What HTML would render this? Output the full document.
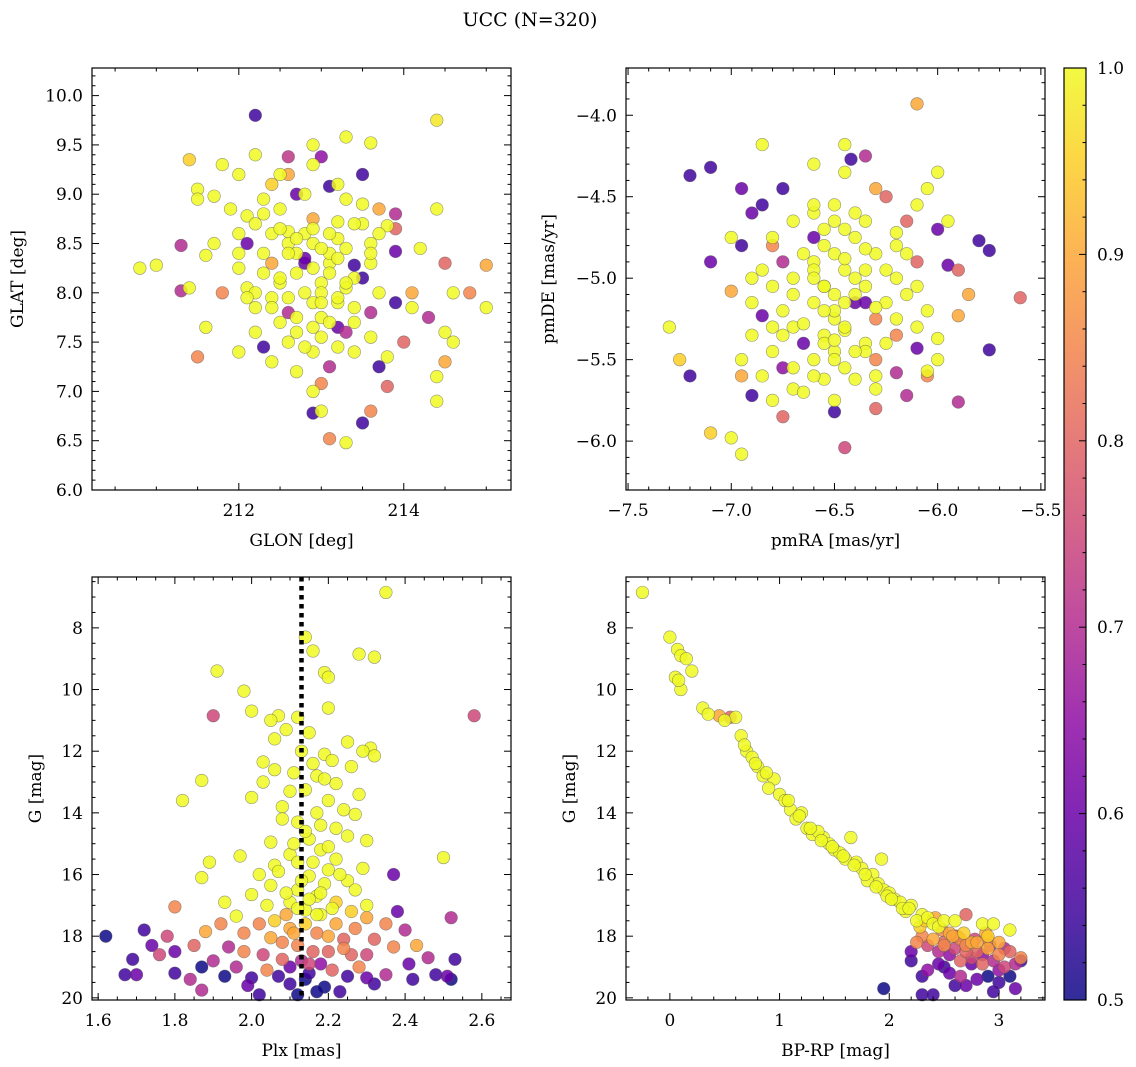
<!DOCTYPE html>
<html><head><meta charset="utf-8"><style>
html,body{margin:0;padding:0;background:#fff;}
svg{display:block;font-family:"DejaVu Serif","Liberation Serif",serif;}
</style></head><body>
<svg id="fig" width="1136" height="1067" viewBox="0 0 1136 1067" xmlns="http://www.w3.org/2000/svg">
<rect width="1136" height="1067" fill="#fff"/>
<text x="530" y="26" font-size="19" text-anchor="middle">UCC (N=320)</text>
<defs><linearGradient id="plasma" x1="0" y1="1" x2="0" y2="0">
<stop offset="0" stop-color="#0d0887"/><stop offset="0.1" stop-color="#41049d"/><stop offset="0.2" stop-color="#6a00a8"/><stop offset="0.3" stop-color="#8f0da4"/><stop offset="0.4" stop-color="#b12a90"/><stop offset="0.5" stop-color="#cc4778"/><stop offset="0.6" stop-color="#e16462"/><stop offset="0.7" stop-color="#f2844b"/><stop offset="0.8" stop-color="#fca636"/><stop offset="0.9" stop-color="#fcce25"/><stop offset="1" stop-color="#f0f921"/>
</linearGradient></defs>
</svg>
<script>
// ---- Panel 1: GLON / GLAT / membership probability ----
const p1Glon = [212.2,214.4,213.3,213.6,212.9,213.0,211.4,212.6,212.2,213.5,212.9,212.5,211.8,211.5,212.4,213.1,212.7,212.0,211.7,211.5,212.3,213.3,213.7,214.4,212.5,211.9,213.9,212.1,212.9,213.2,213.5,213.8,212.6,212.0,211.3,211.7,212.1,212.3,212.6,212.9,213.2,213.6,214.2,213.9,211.6,212.0,212.4,212.8,213.1,213.4,213.6,214.5,210.8,211.0,211.4,211.3,211.8,212.1,212.5,213.0,213.3,213.7,214.1,214.6,215.0,214.8,215.0,213.9,212.2,212.6,213.0,213.6,214.1,214.3,211.6,212.2,212.7,213.2,213.6,214.0,214.5,214.6,212.3,212.9,213.4,213.8,211.5,212.0,212.4,212.7,213.1,213.7,214.5,214.4,213.8,213.0,212.9,213.6,214.4,212.9,213.0,213.5,213.1,213.3,212.7,212.8,213.0,212.9,213.2,213.4,212.4,213.1,
 212.5,212.7,212.9,213.1,213.3,212.6,212.8,213.0,213.2,213.4,212.3,212.5,212.7,212.9,213.1,213.3,213.5,212.2,212.4,212.6,212.8,213.0,213.2,213.4,212.5,212.7,212.9,213.1,213.3,212.6,212.8,213.0,213.2,212.4,213.6,212.1,213.7,212.3,213.9,212.0,213.5,212.8,213.2,212.6,212.2,213.4];
const p1Glat = [9.8,9.75,9.58,9.52,9.5,9.38,9.35,9.38,9.4,9.2,9.3,9.2,9.3,9.05,9.1,9.08,9.0,9.2,8.98,8.95,8.95,8.95,8.85,8.85,8.85,8.85,8.8,8.78,8.75,8.72,8.7,8.68,8.62,8.6,8.48,8.5,8.5,8.4,8.5,8.5,8.55,8.5,8.45,8.42,8.38,8.25,8.3,8.3,8.3,8.28,8.3,8.3,8.25,8.28,8.05,8.02,8.0,8.05,8.1,8.1,8.05,8.0,8.0,8.0,8.28,8.0,7.85,7.9,7.85,7.8,7.75,7.8,7.85,7.75,7.65,7.6,7.6,7.65,7.55,7.5,7.6,7.5,7.45,7.4,7.4,7.35,7.35,7.4,7.3,7.2,7.25,7.25,7.3,7.15,7.05,7.08,7.0,6.8,6.9,6.78,6.8,6.68,6.52,6.48,8.4,8.6,8.0,7.9,7.9,8.7,8.6,8.4,
 8.65,8.55,8.65,8.6,8.45,8.4,8.35,8.45,8.35,8.15,8.2,8.15,8.2,8.25,8.2,8.1,8.15,8.0,7.95,7.95,8.0,7.9,7.95,7.85,7.7,7.75,7.65,7.7,7.6,7.5,7.45,7.55,7.45,7.85,8.4,7.95,8.6,8.8,8.65,8.4,8.9,9.0,9.1,9.2,8.7,7.7];
const p1Prob = [0.55,0.98,1,1,1,0.65,0.95,0.72,1,0.55,1,1,1,1,0.95,0.55,0.6,1,1,1,1,1,0.9,1,1,1,0.7,1,0.9,1,1,1,1,1,0.7,1,0.6,1,1,1,1,1,1,0.6,1,1,0.9,0.6,1,0.55,1,0.8,1,1,1,0.7,0.85,1,1,1,1,1,0.9,1,0.9,0.85,1,0.55,1,0.7,1,0.7,1,0.7,1,1,1,0.6,1,0.8,1,1,0.55,1,1,1,0.85,1,1,1,0.7,0.55,0.9,1,0.8,0.85,1,0.85,1,0.55,1,0.55,0.85,1,1,1,1,1,1,1,1,1,
 1,1,1,1,1,1,0.6,1,1,1,1,1,1,1,1,1,0.55,1,1,1,1,1,1,1,1,1,1,1,0.7,1,1,1,1,1,1,1,1,1,0.8,1,1,1,1,0.9,1,1];
// ---- Panel 2: pmRA / pmDE ----
const p2PmRA = [-6.1,-6.85,-6.45,-6.42,-6.35,-6.6,-7.2,-7.1,-6.45,-6.0,-6.95,-6.75,-6.3,-6.05,-6.85,-6.9,-6.5,-6.25,-6.1,-5.95,-6.7,-6.35,-6.55,-6.15,-6.0,-6.8,-7.0,-6.6,-6.4,-6.2,-5.8,-6.95,-6.8,-5.75,-6.5,-6.3,-7.1,-6.75,-6.6,-6.1,-5.95,-6.45,-6.7,-6.9,-6.2,-5.9,-7.0,-6.8,-6.55,-6.35,-6.15,-5.6,-5.85,-6.9,-6.6,-6.4,-6.25,-6.05,-6.75,-6.85,-6.5,-6.3,-5.9,-7.3,-6.7,-6.45,-6.1,-6.9,-6.55,-6.2,-6.0,-6.65,-6.35,-6.8,-6.5,-6.1,-5.75,-7.25,-6.95,-6.6,-6.3,-6.0,-6.75,-6.45,-6.2,-7.2,-6.95,-6.85,-6.55,-6.05,-6.7,-6.3,-6.9,-6.8,-6.5,-6.15,-5.9,-6.75,-6.5,-6.3,-7.1,-7.0,-6.45,-6.95,-6.05,-6.6,-6.4,-6.5,
 -6.65,-6.55,-6.45,-6.35,-6.25,-6.7,-6.6,-6.5,-6.4,-6.3,-6.2,-6.75,-6.65,-6.55,-6.45,-6.35,-6.25,-6.7,-6.6,-6.5,-6.4,-6.3,-6.65,-6.55,-6.45,-6.35,-6.6,-6.5,-6.4,-6.55,-6.85,-6.15,-6.8,-6.1,-6.4,-6.2,-6.6,-6.5,-6.35,-6.45];
const p2PmDE = [-3.93,-4.18,-4.18,-4.27,-4.25,-4.3,-4.37,-4.32,-4.35,-4.35,-4.45,-4.45,-4.45,-4.45,-4.55,-4.6,-4.55,-4.5,-4.55,-4.65,-4.65,-4.65,-4.7,-4.65,-4.7,-4.75,-4.75,-4.75,-4.75,-4.8,-4.77,-4.8,-4.8,-4.83,-4.85,-4.85,-4.9,-4.9,-4.9,-4.9,-4.92,-4.95,-5.0,-5.0,-5.0,-4.95,-5.08,-5.05,-5.05,-5.05,-5.1,-5.12,-5.1,-5.15,-5.15,-5.15,-5.15,-5.2,-5.2,-5.23,-5.25,-5.25,-5.23,-5.3,-5.3,-5.32,-5.3,-5.35,-5.35,-5.35,-5.37,-5.4,-5.4,-5.45,-5.45,-5.43,-5.44,-5.5,-5.5,-5.5,-5.5,-5.5,-5.55,-5.55,-5.58,-5.6,-5.6,-5.6,-5.62,-5.6,-5.68,-5.68,-5.72,-5.75,-5.75,-5.72,-5.76,-5.85,-5.82,-5.8,-5.95,-5.98,-6.04,-6.08,-5.57,-4.95,-5.0,-5.1,
 -4.85,-4.8,-4.88,-4.82,-4.95,-5.1,-5.0,-5.2,-5.1,-5.18,-5.25,-5.35,-5.28,-5.4,-5.3,-5.45,-5.4,-5.55,-5.6,-5.38,-5.62,-5.6,-5.7,-5.05,-4.7,-4.95,-4.6,-4.65,-4.6,-5.2,-4.95,-4.85,-5.3,-5.05,-5.45,-4.72,-4.55,-5.5,-5.15,-5.15];
const p2Prob = [0.9,1,1,0.55,0.7,1,0.55,0.55,1,1,0.6,0.55,0.9,1,0.55,0.6,1,0.8,1,1,1,1,1,0.8,0.6,1,1,0.6,1,1,0.55,0.55,0.85,0.55,1,1,0.6,0.7,1,0.8,0.6,1,1,1,1,0.8,0.9,1,1,1,1,0.8,0.9,1,1,0.6,1,1,1,0.6,1,0.85,0.9,1,1,1,1,1,1,0.85,1,0.6,1,1,1,0.6,0.55,0.95,1,1,0.85,1,0.65,1,0.7,0.55,0.9,1,1,0.85,1,1,0.55,1,1,0.7,0.7,0.8,0.55,0.8,0.95,1,0.75,1,1,1,1,1,
 1,1,1,1,1,1,1,1,1,1,1,1,1,1,1,1,1,1,1,1,1,1,1,1,1,1,1,1,1,1,1,1,1,1,1,1,1,1,0.6,1];
// ---- Panel 3: Plx / G ----
const p3Plx = [2.35,2.14,2.28,2.32,2.16,1.91,2.19,2.2,1.98,2.0,2.07,2.12,2.2,1.9,2.58,2.05,2.09,2.15,2.06,2.25,2.31,2.29,2.19,2.32,2.03,2.21,2.26,2.06,2.11,2.17,1.87,2.03,2.22,2.14,2.28,2.0,2.2,1.82,2.08,2.17,2.27,2.12,2.22,2.05,2.15,2.25,2.3,2.18,2.1,1.97,2.22,2.5,2.12,1.89,2.06,2.2,2.29,2.02,2.15,2.37,1.87,2.25,2.05,2.12,2.27,2.0,2.17,2.1,2.22,1.93,2.3,2.04,2.14,2.26,1.8,2.38,2.09,2.18,1.96,2.3,2.52,1.72,1.92,2.02,2.22,2.35,2.1,2.27,1.88,1.98,2.17,2.4,1.62,1.78,2.05,2.24,2.32,1.74,1.85,1.94,2.12,2.37,2.43,1.69,1.8,1.98,2.2,2.3,2.46,2.53,1.76,1.9,2.08,2.15,2.28,2.41,1.87,1.96,2.04,2.21,2.35,2.48,2.51,1.67,1.7,1.8,1.93,2.0,2.14,2.25,2.3,2.42,2.52,1.84,1.99,2.1,2.19,2.32,1.87,2.02,2.17,2.23,2.12,
 2.13,2.16,2.19,2.1,2.24,2.08,2.14,2.18,2.11,2.2,2.16,2.07,2.13,2.19,2.23,2.09,2.15,2.12,2.18,2.06,2.21,2.14,2.11,2.17,2.2,2.08,2.16,2.24,2.03,2.13,2.1,2.18,2.15,2.26,2.07];
const p3G = [6.85,8.3,8.85,8.95,8.75,9.4,9.45,9.6,10.05,10.7,10.85,10.9,10.6,10.85,10.85,11.0,11.3,11.4,11.6,11.7,11.9,12.0,12.1,12.15,12.35,12.3,12.5,12.6,12.7,12.8,12.95,13.0,13.05,13.25,13.4,13.5,13.6,13.6,13.8,14.0,14.05,14.3,14.5,14.95,14.85,14.75,14.9,15.2,15.35,15.4,15.5,15.45,15.6,15.6,15.7,15.85,15.8,16.0,16.05,16.0,16.1,16.2,16.35,16.5,16.5,16.65,16.7,16.9,16.9,16.9,17.0,17.0,17.15,17.2,17.05,17.2,17.3,17.3,17.35,17.4,17.4,17.8,17.6,17.6,17.6,17.6,17.75,17.75,17.85,17.9,17.9,17.8,18.0,18.0,18.05,18.1,18.1,18.3,18.3,18.35,18.3,18.35,18.3,18.75,18.5,18.5,18.5,18.6,18.7,18.75,18.6,18.8,18.75,18.9,19.0,18.9,19.0,19.0,19.1,19.1,19.25,19.25,19.3,19.25,19.25,19.2,19.3,19.35,19.4,19.3,19.35,19.4,19.4,19.4,19.6,19.55,19.65,19.55,19.75,19.9,19.8,19.8,19.9,
 12.0,12.4,12.9,13.3,13.9,14.2,14.6,14.4,15.0,15.1,15.6,15.9,16.2,16.3,16.0,16.6,16.8,17.1,16.6,17.5,17.1,17.6,17.9,17.3,18.0,18.2,18.5,18.4,18.6,18.8,19.0,18.9,19.2,18.6,19.3];
const p3Prob = [1,1,1,1,1,1,1,1,1,1,1,1,1,0.75,0.75,1,1,1,1,1,1,1,1,1,1,1,1,1,1,1,1,1,1,1,1,1,1,1,1,1,1,1,1,1,1,1,1,1,1,1,1,1,1,1,1,1,1,1,1,0.6,1,1,1,1,1,1,1,1,0.95,1,1,1,1,0.95,0.85,0.6,0.9,1,1,0.9,0.7,0.55,0.85,0.85,0.9,0.85,0.9,0.85,0.9,0.85,0.85,0.7,0.5,0.75,0.9,0.8,0.8,0.6,0.8,0.7,0.85,0.85,0.9,0.55,0.6,0.85,0.8,0.75,0.7,0.55,0.75,0.7,0.8,0.75,0.85,0.6,0.5,0.7,0.85,0.8,0.7,0.55,0.6,0.55,0.6,0.55,0.5,0.55,0.5,0.55,0.6,0.55,0.5,0.7,0.6,0.55,0.5,0.55,0.7,0.55,0.5,0.55,0.5,
 1,1,1,1,1,1,1,1,1,1,1,1,1,1,1,1,1,1,1,0.95,1,0.95,0.9,1,0.9,0.85,0.8,0.85,0.75,0.7,0.6,0.65,0.55,0.8,0.55];
const plxMean = [2.13];
// ---- Panel 4: BP-RP / G ----
const p4Col = [-0.25,0.0,0.07,0.1,0.15,0.2,0.05,0.1,0.08,0.3,0.35,0.45,0.55,0.6,0.5,0.65,0.7,0.75,0.8,0.85,0.95,0.9,1.0,1.05,1.1,1.15,1.25,1.3,1.4,1.45,1.5,1.55,1.6,1.65,1.7,1.75,1.85,1.9,1.95,1.93,2.0,2.05,2.1,2.2,2.15,2.3,2.25,2.35,2.4,2.45,2.5,2.6,2.7,2.85,2.95,3.1,2.55,2.65,2.75,2.9,1.2,1.35,1.8,1.98,2.12,2.28,2.42,2.3,2.5,2.6,2.7,2.8,2.9,3.0,3.1,3.2,2.35,2.45,2.55,2.65,2.75,2.85,2.95,3.05,3.15,2.4,2.5,2.6,2.7,2.8,2.9,3.0,2.2,2.2,2.3,1.95,2.3,2.4,2.55,2.6,2.7,2.9,3.0,3.1,3.2,3.15,2.95,2.75,2.85,3.05,2.45,2.5,2.35,2.65,2.8,3.0,2.25,2.58,2.68,2.88,
 0.68,0.78,0.88,1.08,1.18,1.28,1.38,1.48,1.58,1.68,1.78,1.88,2.02,2.18,2.33,2.48,2.62,2.78,2.92];
const p4G = [6.85,8.3,8.7,8.9,9.0,9.4,9.6,10.0,9.7,10.6,10.8,10.85,10.9,10.9,11.0,11.5,12.0,12.2,12.5,12.8,12.9,13.2,13.4,13.6,13.9,14.2,14.5,14.7,14.8,15.0,15.2,15.3,15.5,14.8,15.6,15.8,16.0,16.3,16.5,15.5,16.6,16.8,16.9,17.0,17.2,17.3,17.5,17.4,17.6,17.7,17.5,17.5,17.3,17.6,17.6,17.8,17.9,18.1,18.2,18.0,14.0,14.6,16.2,16.7,17.1,17.7,17.4,18.0,18.2,18.4,18.3,18.5,18.4,18.6,18.5,18.7,18.3,18.5,18.6,18.8,18.7,18.9,18.8,19.0,18.9,18.1,18.3,18.0,18.5,18.2,18.1,18.2,18.5,18.8,19.3,19.7,19.9,19.9,19.2,19.6,19.6,19.3,19.5,19.3,18.8,19.7,19.8,18.9,18.6,18.4,18.9,19.0,19.1,19.3,19.4,19.1,18.2,18.0,17.9,17.9,
 11.8,12.4,12.7,13.6,14.1,14.5,14.9,15.1,15.4,15.7,16.0,16.4,16.8,17.1,17.5,17.8,18.0,18.1,18.3];
const p4Prob = [1,1,1,1,1,1,1,1,1,1,1,0.9,0.8,1,1,1,1,1,1,1,1,1,1,1,1,1,1,1,1,1,1,1,1,1,1,1,1,1,1,1,1,1,1,1,1,1,1,1,1,1,1,1,0.8,1,1,1,0.9,0.85,0.9,0.95,1,1,1,1,1,0.95,0.9,0.85,0.8,0.75,0.85,0.8,0.9,0.85,0.8,0.85,0.75,0.7,0.65,0.8,0.75,0.8,0.7,0.75,0.7,0.9,0.85,0.75,0.8,0.9,0.85,0.9,0.6,0.55,0.55,0.5,0.55,0.55,0.6,0.55,0.6,0.5,0.55,0.5,0.55,0.6,0.55,0.6,0.65,0.7,0.6,0.55,0.65,0.7,0.6,0.65,0.85,0.9,0.95,0.9,
 1,1,1,1,1,1,1,1,1,1,1,1,1,1,0.95,0.85,0.8,0.75,0.7];
// ---- tick labels ----
const p1XTicks = [212,214];
const p1YTicks = [6.0,6.5,7.0,7.5,8.0,8.5,9.0,9.5,10.0];
const p2XTicks = [-7.5,-7.0,-6.5,-6.0,-5.5];
const p2YTicks = [-6.0,-5.5,-5.0,-4.5,-4.0];
const p3XTicks = [1.6,1.8,2.0,2.2,2.4,2.6];
const p3YTicks = [8,10,12,14,16,18,20];
const p4XTicks = [0,1,2,3];
const p4YTicks = [8,10,12,14,16,18,20];
const cbTicks = [0.5,0.6,0.7,0.8,0.9,1.0];

const NS = "http://www.w3.org/2000/svg";
const svg = document.getElementById('fig');
function mk(tag, attrs, parent){ const e=document.createElementNS(NS,tag); for(const k in attrs) e.setAttribute(k,attrs[k]); (parent||svg).appendChild(e); return e; }
const stops=[[0,[13,8,135]],[0.1,[65,4,157]],[0.2,[106,0,168]],[0.3,[143,13,164]],[0.4,[177,42,144]],[0.5,[204,71,120]],[0.6,[225,100,98]],[0.7,[242,132,75]],[0.8,[252,166,54]],[0.9,[252,206,37]],[1,[240,249,33]]];
function plasma(p){ let t=Math.max(0,Math.min(1,(p-0.5)/0.5)); for(let i=1;i<stops.length;i++){ if(t<=stops[i][0]){ const a=stops[i-1],b=stops[i]; const f=(t-a[0])/(b[0]-a[0]); const c=a[1].map((v,j)=>Math.round(v+(b[1][j]-v)*f)); return `rgb(${c[0]},${c[1]},${c[2]})`; } } return 'rgb(240,249,33)'; }
function fmt(v,d){ const s=v.toFixed(d); return s.replace('-','\u2212'); }
const FS = 17;

function panel(cfg){
  const {name,L,T,R,B,xd,yd,inv,xt,yt,xmin,ymin,xdec,ydec,xlab,ylab,xs,ys,ps} = cfg;
  const g = mk('g',{});
  
  
  const sx = v => L + (v-xd[0])/(xd[1]-xd[0])*(R-L);
  const sy = inv ? (v => T + (v-yd[0])/(yd[1]-yd[0])*(B-T)) : (v => B - (v-yd[0])/(yd[1]-yd[0])*(B-T));
  const idx = xs.map((_,i)=>i).sort((a,b)=>ps[a]-ps[b]);
  const pg = mk('g',{},g);
  
  
  for(const i of idx){
    const c = mk('circle',{cx:sx(xs[i]),cy:sy(ys[i]),r:6.3,fill:plasma(ps[i]),'fill-opacity':0.85,stroke:'#555','stroke-opacity':0.6,'stroke-width':0.6},pg);
    
    
  }
  if(cfg.vline){
    const vl = mk('line',{x1:sx(cfg.vline[0]),x2:sx(cfg.vline[0]),y1:T,y2:B,stroke:'#000','stroke-width':4.5,'stroke-dasharray':'4.5,4.5'},g);
    
    
  }
  const fr = mk('rect',{x:L,y:T,width:R-L,height:B-T,fill:'none',stroke:'#000','stroke-width':1.2},g);
  
  
  const tg = mk('g',{stroke:'#000','stroke-width':1},g);
  const lo=Math.min(xd[0],xd[1]), hi=Math.max(xd[0],xd[1]);
  for(let v=Math.ceil(lo/xmin-1e-6)*xmin; v<=hi+1e-9; v+=xmin){
    const maj = xt.some(t=>Math.abs(t-v)<1e-6), len = maj?7:3.5, x=sx(v);
    mk('line',{x1:x,x2:x,y1:B,y2:B-len},tg); mk('line',{x1:x,x2:x,y1:T,y2:T+len},tg);
  }
  const ylo=Math.min(yd[0],yd[1]), yhi=Math.max(yd[0],yd[1]);
  for(let v=Math.ceil(ylo/ymin-1e-6)*ymin; v<=yhi+1e-9; v+=ymin){
    const maj = yt.some(t=>Math.abs(t-v)<1e-6), len = maj?7:3.5, y=sy(v);
    mk('line',{x1:L,x2:L+len,y1:y,y2:y},tg); mk('line',{x1:R,x2:R-len,y1:y,y2:y},tg);
  }
  for(const v of xt){
    const t = mk('text',{x:sx(v),y:B+26,'font-size':FS,'text-anchor':'middle'},g); t.textContent=fmt(v,xdec);
    
    
  }
  for(const v of yt){
    const t = mk('text',{x:L-9,y:sy(v)+6,'font-size':FS,'text-anchor':'end'},g); t.textContent=fmt(v,ydec);
    
    
  }
  const xl = mk('text',{x:(L+R)/2,y:B+56,'font-size':FS,'text-anchor':'middle'},g); xl.textContent=xlab;
  
  
  const yx = cfg.ylx, yy=(T+B)/2;
  const yl = mk('text',{x:yx,y:yy,'font-size':FS,'text-anchor':'middle',transform:`rotate(-90 ${yx} ${yy})`},g); yl.textContent=ylab;
  
  
}

// colorbar (drawn first so panel labels sit on top)
const cb = mk('g',{});


const cL=1064,cR=1086,cT=68,cB=1000;
mk('rect',{x:cL,y:cT,width:cR-cL,height:cB-cT,fill:'url(#plasma)','fill-opacity':0.85},cb);
mk('rect',{x:cL,y:cT,width:cR-cL,height:cB-cT,fill:'none',stroke:'#000','stroke-width':1.2},cb);
const cy = v => cB - (v-0.5)/0.5*(cB-cT);
for(let v=0.5; v<=1.0001; v+=0.02){
  const maj = cbTicks.some(t=>Math.abs(t-v)<1e-6), len=maj?7:3.5;
  mk('line',{x1:cR,x2:cR-len,y1:cy(v),y2:cy(v),stroke:'#000','stroke-width':1},cb);
}
for(const v of cbTicks){
  const t = mk('text',{x:cR+11,y:cy(v)+6,'font-size':FS},cb); t.textContent=v.toFixed(1);
  
  
}

panel({name:'glon-glat-panel',L:92,T:68,R:511,B:490,xd:[210.22,215.30],yd:[6.0,10.28],inv:false,xt:p1XTicks,yt:p1YTicks,xmin:0.5,ymin:0.1,xdec:0,ydec:1,xlab:'GLON [deg]',ylab:'GLAT [deg]',ylx:23,xs:p1Glon,ys:p1Glat,ps:p1Prob});
panel({name:'proper-motion-panel',L:626,T:68,R:1045,B:490,xd:[-7.51,-5.48],yd:[-6.30,-3.71],inv:false,xt:p2XTicks,yt:p2YTicks,xmin:0.1,ymin:0.1,xdec:1,ydec:1,xlab:'pmRA [mas/yr]',ylab:'pmDE [mas/yr]',ylx:554,xs:p2PmRA,ys:p2PmDE,ps:p2Prob});
panel({name:'plx-g-panel',L:92,T:577,R:511,B:1000,xd:[1.584,2.676],yd:[6.35,20.07],inv:true,xt:p3XTicks,yt:p3YTicks,xmin:0.05,ymin:0.5,xdec:1,ydec:0,xlab:'Plx [mas]',ylab:'G [mag]',ylx:41,xs:p3Plx,ys:p3G,ps:p3Prob,vline:plxMean});
panel({name:'cmd-panel',L:626,T:577,R:1045,B:1000,xd:[-0.40,3.42],yd:[6.35,20.07],inv:true,xt:p4XTicks,yt:p4YTicks,xmin:0.2,ymin:0.5,xdec:0,ydec:0,xlab:'BP-RP [mag]',ylab:'G [mag]',ylx:575,xs:p4Col,ys:p4G,ps:p4Prob});
</script>
</body></html>
